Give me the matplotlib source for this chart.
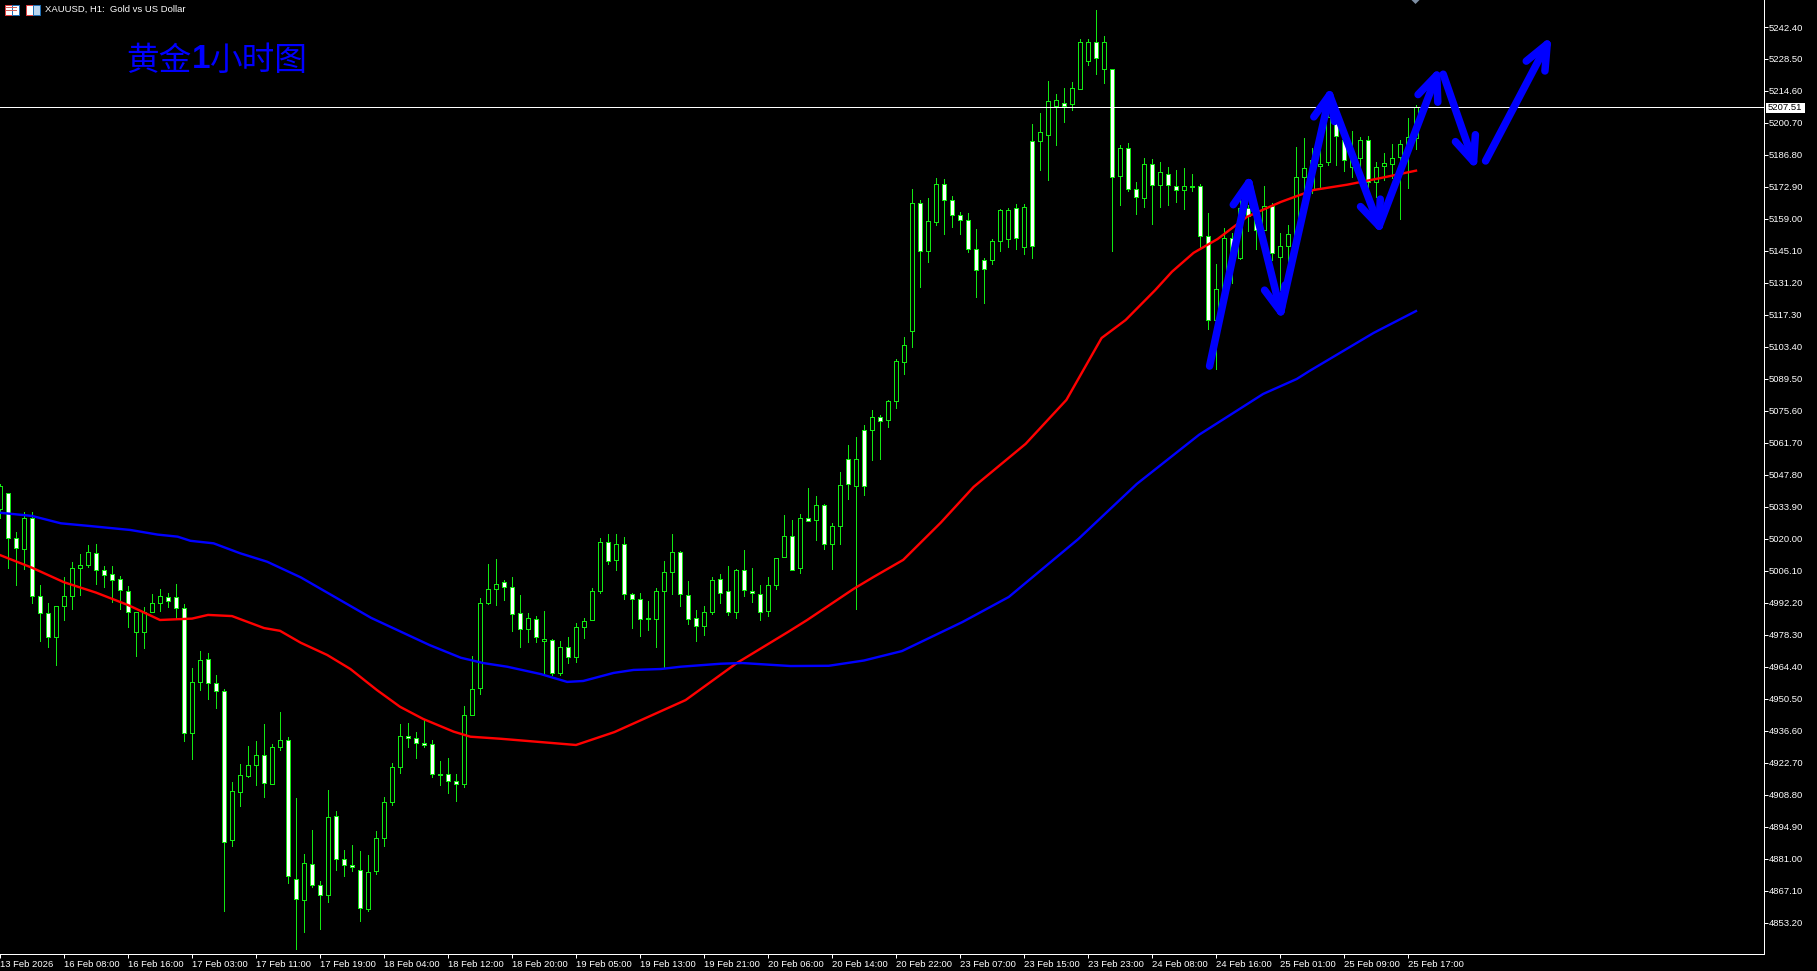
# plot.py - XAUUSD H1 candle chart with two moving averages and hand drawn arrows
import math
import matplotlib
matplotlib.use("Agg")
import matplotlib.pyplot as plt
from matplotlib.patches import Rectangle, Polygon

W, H = 1817, 971

highs = [5043.8,5039.8,5023.0,5031.7,5031.7,4999.9,4992.0,4990.7,5003.3,5009.8,
5013.5,5017.4,5017.8,5008.1,5008.1,5003.8,4999.4,4988.1,4990.3,4995.9,
4998.1,4996.4,5000.3,4991.6,4963.8,4971.2,4970.3,4960.8,4954.7,4914.3,
4922.1,4929.9,4932.1,4939.6,4930.8,4944.7,4933.8,4907.3,4883.0,4893.4,
4871.3,4910.8,4901.7,4884.7,4886.9,4884.3,4882.6,4893.0,4907.8,4922.5,
4939.5,4939.9,4936.0,4941.2,4932.5,4923.4,4924.7,4917.7,4947.4,4969.1,
4994.2,5009.1,5011.1,5002.1,5003.3,4995.5,4987.7,4986.4,4988.5,4976.4,
4975.5,4977.2,4983.3,4985.5,4998.5,5020.2,5022.1,5022.1,5020.7,4996.4,
4996.4,4992.9,4998.5,5010.3,5022.0,5014.6,5001.6,4989.0,4990.7,5003.3,
5004.6,5008.1,5006.8,5015.0,5007.2,5000.0,5003.3,5011.6,5030.3,5028.1,
5030.7,5042.0,5038.5,5035.0,5026.8,5049.0,5060.7,5064.1,5069.4,5075.9,
5073.7,5080.2,5098.0,5107.6,5171.9,5167.1,5167.9,5176.6,5176.2,5168.8,
5161.9,5161.4,5154.5,5141.9,5150.1,5163.2,5163.6,5165.3,5165.3,5200.1,
5204.9,5218.8,5213.1,5215.7,5218.3,5237.4,5237.0,5249.8,5238.3,5224.0,
5191.0,5191.8,5175.0,5185.3,5184.9,5183.6,5181.4,5180.1,5181.0,5178.4,
5174.1,5161.5,5139.3,5155.0,5152.8,5167.3,5165.1,5165.8,5173.2,5165.8,
5152.8,5156.4,5190.3,5194.1,5189.7,5189.7,5206.4,5203.2,5197.2,5197.2,
5194.8,5195.1,5183.9,5187.5,5191.5,5193.3,5203.0,5208.5]

body_tops = [5043.0,5039.8,5020.3,5029.0,5029.0,4995.1,4987.7,4990.7,4995.1,5007.2,
5008.5,5014.2,5013.8,5006.4,5004.6,5002.5,4997.2,4988.1,4988.1,4992.0,
4995.1,4994.6,4994.6,4989.9,4957.7,4967.3,4967.7,4957.3,4953.9,4910.4,
4917.3,4921.7,4926.0,4926.0,4929.5,4932.5,4932.5,4872.1,4879.1,4878.6,
4869.5,4899.1,4899.5,4880.8,4878.2,4876.0,4875.2,4889.9,4905.6,4920.8,
4934.3,4934.3,4933.4,4931.2,4930.8,4917.9,4917.7,4914.7,4943.4,4954.7,
4992.0,4998.1,5000.3,5001.1,4999.0,4987.7,4985.5,4985.1,4976.4,4975.9,
4972.9,4972.9,4981.6,4984.2,4997.2,5018.5,5018.5,5017.6,5017.6,4995.9,
4993.7,4985.5,4997.2,5005.5,5014.2,5014.2,4995.5,4985.5,4988.1,5002.0,
5002.4,4997.2,5006.4,5006.4,4997.2,4996.0,5000.0,5011.6,5021.1,5021.1,
5029.0,5029.0,5034.6,5034.6,5025.5,5043.3,5054.6,5054.6,5067.2,5072.8,
5072.8,5079.8,5097.2,5104.1,5165.8,5165.8,5158.0,5174.0,5174.0,5167.1,
5160.6,5158.4,5145.8,5141.0,5149.3,5162.7,5162.7,5163.6,5164.0,5192.7,
5196.6,5210.1,5210.5,5209.6,5215.7,5236.1,5236.1,5235.7,5236.1,5224.0,
5189.7,5189.7,5171.9,5182.7,5182.7,5179.2,5178.4,5173.2,5173.2,5173.3,
5173.2,5151.5,5128.5,5150.6,5150.6,5163.7,5163.7,5163.7,5164.5,5164.5,
5147.1,5152.4,5177.1,5181.0,5184.6,5182.8,5203.2,5200.6,5193.3,5185.1,
5193.2,5193.2,5181.5,5183.2,5185.4,5191.5,5194.5,5207.5]

body_bottoms = [5032.9,5020.3,5015.9,5015.5,4995.1,4987.7,4977.3,4977.3,4990.7,4995.1,
5007.2,5008.5,5006.4,5004.5,5002.0,4997.7,4988.1,4979.4,4979.4,4988.1,
4992.0,4992.9,4989.9,4935.6,4935.6,4957.7,4957.3,4953.8,4888.2,4889.1,
4910.2,4917.2,4921.7,4913.8,4913.4,4929.5,4873.4,4863.4,4863.0,4869.5,
4865.2,4865.2,4880.8,4878.2,4877.6,4859.5,4859.1,4875.6,4889.9,4905.6,
4920.8,4933.4,4931.2,4930.3,4917.7,4917.6,4914.7,4913.4,4913.4,4943.4,
4955.1,4992.0,4998.1,4999.0,4987.2,4980.7,4980.7,4977.2,4975.5,4961.6,
4961.6,4968.6,4968.6,4981.6,4984.6,4997.2,5010.3,5010.7,4995.9,4993.7,
4985.1,4985.1,4985.1,4997.2,5005.5,4995.9,4985.1,4982.0,4982.0,4988.1,
4996.4,4988.1,4988.1,4997.7,4996.4,4988.1,4988.6,4999.8,5012.0,5006.4,
5007.2,5027.7,5028.1,5017.7,5017.7,5025.5,5043.7,5042.9,5042.9,5067.2,
5071.1,5071.5,5079.8,5096.7,5110.2,5144.9,5144.9,5157.5,5167.1,5160.6,
5158.4,5145.8,5136.7,5137.1,5141.0,5149.3,5150.1,5150.6,5146.7,5147.1,
5192.7,5195.7,5207.9,5207.9,5208.8,5215.3,5227.5,5228.8,5224.0,5177.1,
5177.5,5171.9,5168.4,5167.9,5173.6,5173.6,5173.6,5171.4,5171.4,5173.0,
5151.5,5115.0,5115.0,5128.5,5144.1,5141.9,5160.2,5154.1,5154.1,5144.1,
5142.4,5147.1,5151.3,5177.1,5171.6,5181.9,5183.6,5194.9,5184.5,5181.8,
5185.4,5175.2,5175.2,5181.9,5182.8,5185.8,5191.5,5194.1]

lows = [5029.0,5007.5,5000.1,5007.1,4992.3,4975.8,4973.2,4965.4,4984.9,4989.7,
4995.8,5008.0,5000.6,4999.3,4992.8,4989.7,4981.9,4969.3,4972.8,4988.1,
4988.9,4990.6,4985.5,4932.4,4924.4,4954.4,4950.5,4946.7,4858.5,4886.8,
4904.1,4916.7,4913.3,4908.0,4913.4,4928.5,4870.7,4842.0,4849.4,4868.7,
4850.7,4862.4,4876.3,4873.7,4875.9,4854.2,4858.5,4874.6,4886.8,4904.6,
4918.5,4929.8,4925.0,4929.5,4916.7,4913.3,4909.8,4906.3,4912.4,4943.4,
4952.6,4991.6,4991.4,4993.5,4980.1,4973.2,4975.4,4975.4,4960.9,4960.7,
4960.7,4965.9,4966.4,4977.1,4984.6,4996.6,5009.2,5006.6,4993.7,4981.4,
4978.0,4980.6,4973.2,4963.8,4996.2,4991.0,4983.2,4975.8,4978.4,4987.5,
4992.3,4986.8,4985.8,4995.4,4992.8,4984.8,4986.7,4998.1,5012.0,5006.4,
5005.1,5027.7,5019.7,5015.8,5007.1,5018.0,5037.5,4989.7,5039.2,5054.4,
5054.9,5068.8,5077.0,5091.8,5103.2,5129.6,5140.4,5156.5,5152.6,5155.6,
5152.6,5144.8,5125.2,5122.6,5139.6,5145.2,5147.0,5146.1,5143.9,5142.2,
5180.4,5176.1,5191.3,5201.2,5206.5,5215.3,5226.0,5222.1,5218.2,5145.2,
5165.2,5171.0,5161.3,5164.3,5156.9,5164.3,5165.2,5166.5,5163.5,5171.3,
5146.3,5111.4,5094.0,5126.7,5131.4,5141.5,5153.9,5146.1,5154.1,5141.2,
5128.2,5139.0,5149.9,5169.4,5170.2,5173.1,5182.4,5182.4,5180.0,5177.4,
5174.5,5170.2,5168.7,5176.0,5176.7,5159.2,5172.6,5189.4]

# 1 = up bar (hollow), 0 = down bar (white)
up_bars = "1001000111" "1100000111" "1000110001" "1110110010" "0100001111" \
          "1000000011" "1110001010" "1011110100" "0011100011" "0010001110" \
          "1010110101" "0111101100" "0000111010" "1110111010" "1001010010" \
          "0011010010" "1111111001" "10111111"

ma_fast_x = [0,4,8,12,16,20,24,26,29,33,35,37.6,40.9,43.8,47.1,50,52.9,56.7,58.8,62.6,
             72,76.8,85.7,92.1,98.6,100.9,106.7,109.2,112.9,117.6,121.7,128.2,133.3,137.7,
             140.7,144.4,146.5,149.2,152.2,155.9,160.1,164.2,168.4,172.6,177]
ma_fast = [5013.0,5007.5,5001.2,4996.7,4991.3,4984.8,4985.4,4987.0,4986.5,4981.3,4980.1,4974.9,
           4969.6,4963.5,4954.4,4947.1,4941.8,4936.3,4934.1,4933.2,4930.5,4936.1,4950.0,4966.1,
           4979.8,4984.8,4998.3,5003.5,5010.9,5027.1,5042.6,5061.3,5080.4,5107.3,5115.1,5128.1,
           5136.1,5144.3,5150.3,5160.0,5166.4,5171.6,5173.9,5176.8,5180.0]

ma_slow_x = [0,4,7.6,11.3,16.3,19.7,22.2,23.8,26.7,30,33.4,37.6,41.3,46.4,53.7,57.6,60.4,63.4,
             67.6,70.9,72.9,76.7,79.2,82.6,85.1,90.1,92.8,98.8,103.6,108,112.75,120.3,126.1,
             134.8,142.1,149.9,157.9,162.1,163.7,171.7,177]
ma_slow = [5031.4,5030.0,5026.8,5025.6,5023.9,5021.9,5021.0,5019.2,5018.1,5013.8,5010.1,5003.3,
           4995.9,4985.7,4973.9,4968.4,4966.1,4964.5,4961.3,4957.9,4958.3,4961.8,4963.1,4963.5,
           4964.5,4965.8,4966.1,4964.8,4964.9,4967.2,4971.3,4983.9,4994.8,5020.0,5043.9,5065.3,
           5083.0,5089.5,5093.0,5109.5,5119.0]

# drawn arrows: (bar, price) start and end
arrows = [((151.2,5095.1),(156.1,5174.8)),
          ((156.1,5174.8),(160.1,5118.7)),
          ((160.1,5118.7),(166.2,5212.9)),
          ((166.2,5212.9),(172.4,5155.9)),
          ((172.4,5155.9),(179.6,5221.5)),
          ((180.4,5221.9),(184.2,5183.9)),
          ((185.7,5184.2),(193.4,5235.0))]

last_price = 5207.51
price_ticks = [5242.4 - 13.9*i for i in range(29)]
time_labels = ["13 Feb 2026","16 Feb 08:00","16 Feb 16:00","17 Feb 03:00","17 Feb 11:00","17 Feb 19:00",
               "18 Feb 04:00","18 Feb 12:00","18 Feb 20:00","19 Feb 05:00","19 Feb 13:00","19 Feb 21:00",
               "20 Feb 06:00","20 Feb 14:00","20 Feb 22:00","23 Feb 07:00","23 Feb 15:00","23 Feb 23:00",
               "24 Feb 08:00","24 Feb 16:00","25 Feb 01:00","25 Feb 09:00","25 Feb 17:00"]

GREEN = "#12e812"
BLUE = "#0000ff"
RED = "#ff0000"
px = 0.72  # one pixel in points at dpi 100
font = "Liberation Sans"
cjk = ["Noto Sans CJK SC", "DejaVu Sans"]

fig = plt.figure(figsize=(W/100, H/100), dpi=100, facecolor="black")
ax = fig.add_axes([0, 1-954/H, 1763.5/W, 954/H], facecolor="black")

# candles
bars = list(range(len(highs)))
fills = ["black" if c == "1" else "white" for c in up_bars]
heights = [t-b for t, b in zip(body_tops, body_bottoms)]
ax.vlines(bars, lows, highs, color=GREEN, linewidth=px, antialiased=False, zorder=2)
ax.bar(bars, heights, bottom=body_bottoms, width=0.5, color=fills, edgecolor=GREEN,
       linewidth=px, antialiased=False, zorder=3)

# moving averages
ax.plot(ma_fast_x, ma_fast, color=RED, linewidth=2.4*px, zorder=4)
ax.plot(ma_slow_x, ma_slow, color=BLUE, linewidth=2.4*px, zorder=4)
ax.axhline(last_price, color="white", linewidth=px, antialiased=False, zorder=5)

# arrows: shaft plus two wings, 27 px long at 23 degrees off the shaft
xscale, yscale = 8.0, 2.3  # px per bar, px per price unit
for (x0, y0), (x1, y1) in arrows:
    ang = math.atan2((y0-y1)*yscale, (x0-x1)*xscale)
    lx = x1 + 27*math.cos(ang+math.radians(23))/xscale
    ly = y1 + 27*math.sin(ang+math.radians(23))/yscale
    rx = x1 + 27*math.cos(ang-math.radians(23))/xscale
    ry = y1 + 27*math.sin(ang-math.radians(23))/yscale
    for seg_x, seg_y in ([x0, x1], [y0, y1]), ([lx, x1, rx], [ly, y1, ry]):
        ax.plot(seg_x, seg_y, color=BLUE, linewidth=5.4, solid_capstyle="round",
                solid_joinstyle="round", zorder=6)

ax.set_xlim(0.0625, 220.44)
ax.set_ylim(4839.7, 5254.13)

ax.yaxis.tick_right()
ax.set_yticks(price_ticks)
ax.set_yticklabels(["%.2f" % p for p in price_ticks], fontfamily=font, fontsize=6.8, color="white")
ax.set_xticks([8*i for i in range(len(time_labels))])
ax.set_xticklabels(time_labels, fontfamily=font, fontsize=6.8, color="white", ha="left")
ax.tick_params(axis="y", length=3, width=px, color="white", pad=1)
ax.tick_params(axis="x", length=3, width=px, color="white", pad=1.5)
for side in ["left", "top"]:
    ax.spines[side].set_visible(False)
for side in ["right", "bottom"]:
    ax.spines[side].set_color("white")
    ax.spines[side].set_linewidth(px)

# current price flag
fig.add_artist(Rectangle((1766/W, 1-113/H), 39/W, 10/H, transform=fig.transFigure,
                         facecolor="white", edgecolor="none"))
fig.text(1768/W, 1-108/H, "%.2f" % last_price, fontfamily=font, fontsize=6.8, color="black", va="center")

# header
fig.text(45/W, 1-9.5/H, "XAUUSD, H1:  Gold vs US Dollar", fontfamily=font, fontsize=6.8,
         color="white", va="center")
fig.text(126/W, 1-61/H, "黄金", family=cjk, fontsize=23.5, color=BLUE, va="center")
fig.text(192/W, 1-59/H, "1", family=font, fontweight="bold", fontsize=24, color=BLUE, va="center")
fig.text(210/W, 1-61/H, "小时图", family=cjk, fontsize=23.5, color=BLUE, va="center")

# toolbar icons and the shift marker
def icon(x0, w, face, edge):
    fig.add_artist(Rectangle((x0/W, 1-15.5/H), w/W, 10.5/H, transform=fig.transFigure,
                             facecolor=face, edgecolor=edge, linewidth=px))

icon(4.5, 7, "white", "#e04040")
icon(11.5, 7, "white", "#1f6fb5")
for y in (8, 11):
    fig.add_artist(Rectangle((6/W, 1-y/H), 11/W, 1/H, transform=fig.transFigure,
                             facecolor="#d0605a", edgecolor="none"))
icon(25.5, 7, "white", "#e04040")
icon(33, 6.5, "#b8d4ee", "#1f6fb5")
fig.add_artist(Polygon([(1411.5/W, 1), (1419.5/W, 1), (1415.5/W, 1-4/H)], transform=fig.transFigure,
                       facecolor="#7d8ea3", edgecolor="none"))

fig.savefig("out.png", dpi=100, facecolor="black")
